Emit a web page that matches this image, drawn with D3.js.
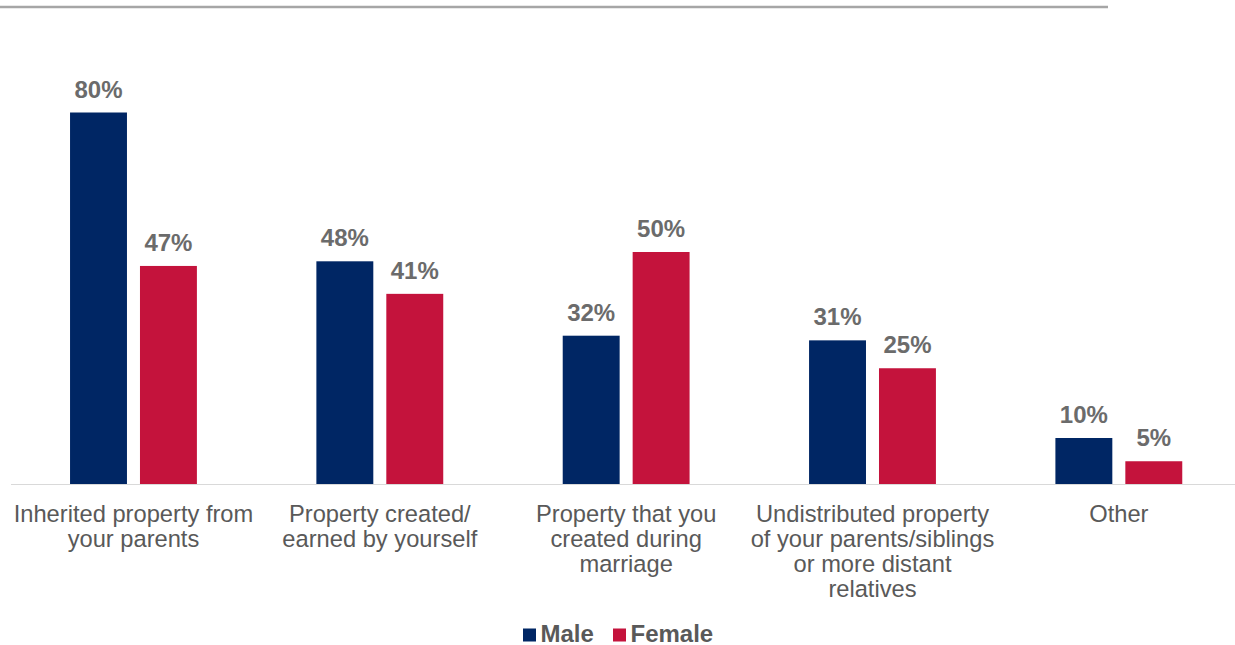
<!DOCTYPE html>
<html>
<head>
<meta charset="utf-8">
<script src="https://cdn.jsdelivr.net/npm/d3@7/dist/d3.min.js"></script>
<style>
  html, body { margin: 0; padding: 0; background: #fff; }
  svg { display: block; font-family: "Liberation Sans", Arial, sans-serif; }
</style>
</head>
<body>
<svg id="chart" width="1235" height="645"></svg>
<script>
const categories = [
  ["Inherited property from", "your parents"],
  ["Property created/", "earned by yourself"],
  ["Property that you", "created during", "marriage"],
  ["Undistributed property", "of your parents/siblings", "or more distant", "relatives"],
  ["Other"]
];
const seriesNames = ["Male", "Female"];
const maleValues = [80, 48, 32, 31, 10];
const femaleValues = [47, 41, 50, 25, 5];
const colors = ["#002664", "#C4133C"];

const svg = d3.select("#chart");
const W = 1235, H = 645;
const baseY = 484.5;

const catIdx = d3.range(categories.length);
const x0 = d3.scaleBand().domain(catIdx).range([10.3, 1242]).paddingInner(0.485).paddingOuter(0.2425);
const x1 = d3.scaleBand().domain(seriesNames).range([0, x0.bandwidth()]).paddingInner(0.186).paddingOuter(0);
const y = d3.scaleLinear().domain([0, 100]).range([baseY, baseY - 465]);

// top rule
svg.append("line").attr("x1", 0).attr("x2", 1108).attr("y1", 7).attr("y2", 7)
  .attr("stroke", "#a6a6a6").attr("stroke-width", 2.5);

const data = catIdx.map(i => ({ i, vals: [maleValues[i], femaleValues[i]] }));

const groups = svg.selectAll("g.grp").data(data).enter().append("g")
  .attr("class", "grp").attr("transform", d => `translate(${x0(d.i)},0)`);

groups.selectAll("rect").data(d => d.vals.map((v, k) => ({ v, k }))).enter().append("rect")
  .attr("x", d => x1(seriesNames[d.k]))
  .attr("width", x1.bandwidth())
  .attr("y", d => y(d.v))
  .attr("height", d => baseY - y(d.v))
  .attr("fill", d => colors[d.k]);

groups.selectAll("text.val").data(d => d.vals.map((v, k) => ({ v, k }))).enter().append("text")
  .attr("class", "val")
  .attr("x", d => x1(seriesNames[d.k]) + x1.bandwidth() / 2)
  .attr("y", d => y(d.v) - 15)
  .attr("text-anchor", "middle")
  .attr("font-size", 24).attr("font-weight", "bold").attr("fill", "#6b6b6b")
  .text(d => d.v + "%");

// baseline
svg.append("line").attr("x1", 11).attr("x2", W).attr("y1", baseY).attr("y2", baseY)
  .attr("stroke", "#d9d9d9").attr("stroke-width", 1.2);

// category labels
const lab = svg.selectAll("text.cat").data(data).enter().append("text")
  .attr("class", "cat")
  .attr("x", d => x0(d.i) + x0.bandwidth() / 2)
  .attr("y", 521.5)
  .attr("text-anchor", "middle")
  .attr("font-size", 23.7).attr("fill", "#595959");
lab.selectAll("tspan").data(d => categories[d.i].map(t => ({ t, cx: x0(d.i) + x0.bandwidth() / 2 })))
  .enter().append("tspan")
  .attr("x", d => d.cx)
  .attr("dy", (d, j) => j === 0 ? 0 : 25)
  .text(d => d.t);

// legend
const legend = svg.append("g");
const legX = [523, 613];
seriesNames.forEach((name, k) => {
  legend.append("rect").attr("x", legX[k]).attr("y", 628.5).attr("width", 13).attr("height", 13)
    .attr("fill", colors[k]);
  legend.append("text").attr("x", legX[k] + 17.5).attr("y", 641.5)
    .attr("font-size", 24).attr("font-weight", "bold").attr("fill", "#595959")
    .text(name);
});
</script>
</body>
</html>
